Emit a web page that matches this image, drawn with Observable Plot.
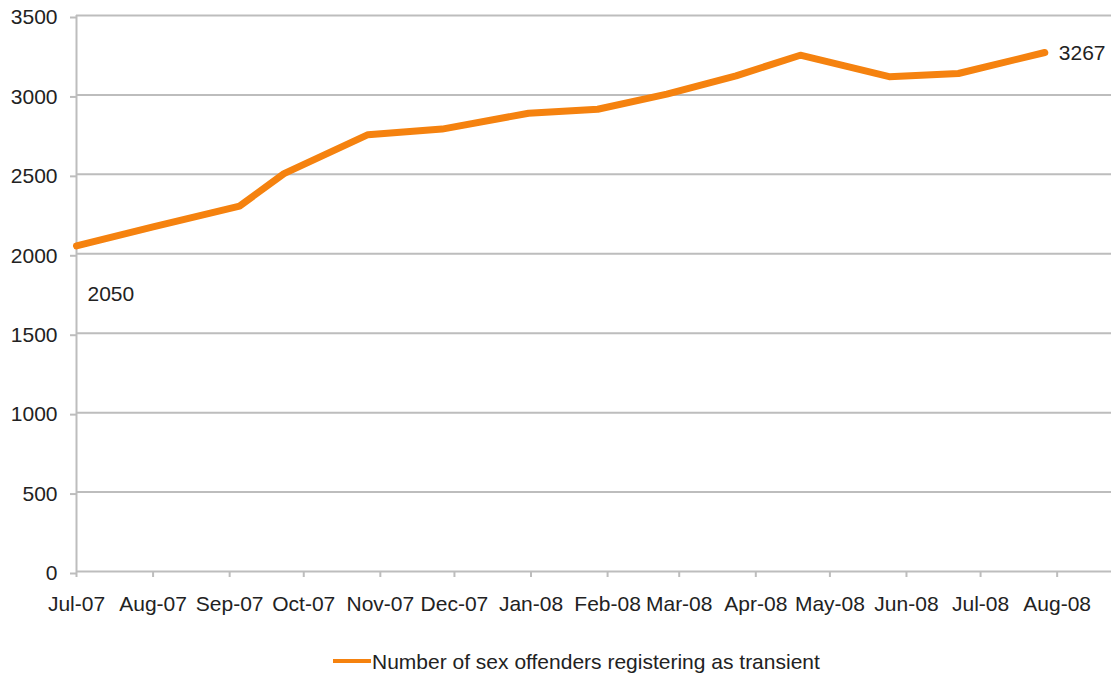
<!DOCTYPE html>
<html>
<head>
<meta charset="utf-8">
<script src="https://cdn.jsdelivr.net/npm/d3@7"></script>
<script src="https://cdn.jsdelivr.net/npm/@observablehq/plot@0.6"></script>
<style>
  html, body { margin: 0; padding: 0; background: #fff; }
  #wrap { position: relative; width: 1111px; height: 673px; font-family: "Liberation Sans", Arial, sans-serif; color: #222; }
  #legend { position: absolute; left: 333px; top: 649px; font-size: 21px; line-height: 26px; white-space: nowrap; }
  #legend .sw { display: inline-block; width: 38px; height: 4px; background: #f5820f; vertical-align: middle; margin-right: 1px; position: relative; top: -2px; }
</style>
</head>
<body>
<div id="wrap">
  <div id="chart"></div>
  <div id="legend"><span class="sw"></span>Number of sex offenders registering as transient</div>
</div>
<script>
// Data
const dates = ["2007-07-01","2007-08-01","2007-09-05","2007-09-23","2007-10-27","2007-11-26","2007-12-31","2008-01-28","2008-02-25","2008-03-24","2008-04-19","2008-05-25","2008-06-22","2008-07-27"];
const counts = [2050, 2170, 2300, 2505, 2750, 2785, 2885, 2910, 3005, 3120, 3250, 3115, 3135, 3267];
const tickDates = ["2007-07-01","2007-08-01","2007-09-01","2007-10-01","2007-11-01","2007-12-01","2008-01-01","2008-02-01","2008-03-01","2008-04-01","2008-05-01","2008-06-01","2008-07-01","2008-08-01"];
const tickLabels = ["Jul-07","Aug-07","Sep-07","Oct-07","Nov-07","Dec-07","Jan-08","Feb-08","Mar-08","Apr-08","May-08","Jun-08","Jul-08","Aug-08"];
const yTicks = [0, 500, 1000, 1500, 2000, 2500, 3000, 3500];
const seriesName = "Number of sex offenders registering as transient";

const data = dates.map((d, i) => ({date: new Date(d), value: counts[i]}));
const tickDateObjs = tickDates.map(d => new Date(d));
const first = [data[0]];
const last = [data[data.length - 1]];

const grid = "#bdbdbd";
const orange = "#f5820f";
const fs = 21;

const chart = Plot.plot({
  width: 1111,
  height: 640,
  marginLeft: 76,
  marginRight: 0,
  marginTop: 15,
  marginBottom: 69,
  style: {fontFamily: '"Liberation Sans", Arial, sans-serif', fontSize: fs + "px", color: "#222", background: "#fff"},
  x: {type: "utc", domain: [new Date("2007-07-01"), new Date("2008-08-23")], label: null},
  y: {domain: [0, 3500], label: null},
  marks: [
    Plot.gridY(yTicks, {stroke: grid, strokeOpacity: 1, strokeWidth: 2}),
    Plot.ruleX([tickDateObjs[0]], {stroke: grid, strokeWidth: 2}),
    Plot.axisY(yTicks, {label: null, tickSize: 6, tickPadding: 13, stroke: grid, strokeWidth: 2, fill: "#222", fontSize: fs, dy: 2,
      tickFormat: d => String(d)}),
    Plot.axisX(tickDateObjs, {label: null, tickSize: 6, tickPadding: 19, stroke: grid, strokeWidth: 2, fill: "#222", fontSize: fs,
      tickFormat: d => tickLabels[tickDateObjs.findIndex(t => +t === +d)]}),
    Plot.line(data, {x: "date", y: "value", stroke: orange, strokeWidth: 7, strokeLinejoin: "round", strokeLinecap: "round"}),
    Plot.text(first, {x: "date", y: "value", text: d => String(d.value), textAnchor: "start", dx: 11, dy: 48, fontSize: fs, fill: "#222"}),
    Plot.text(last, {x: "date", y: "value", text: d => String(d.value), textAnchor: "start", dx: 14, dy: 1, fontSize: fs, fill: "#222"})
  ]
});
document.getElementById("chart").appendChild(chart);
</script>
</body>
</html>
